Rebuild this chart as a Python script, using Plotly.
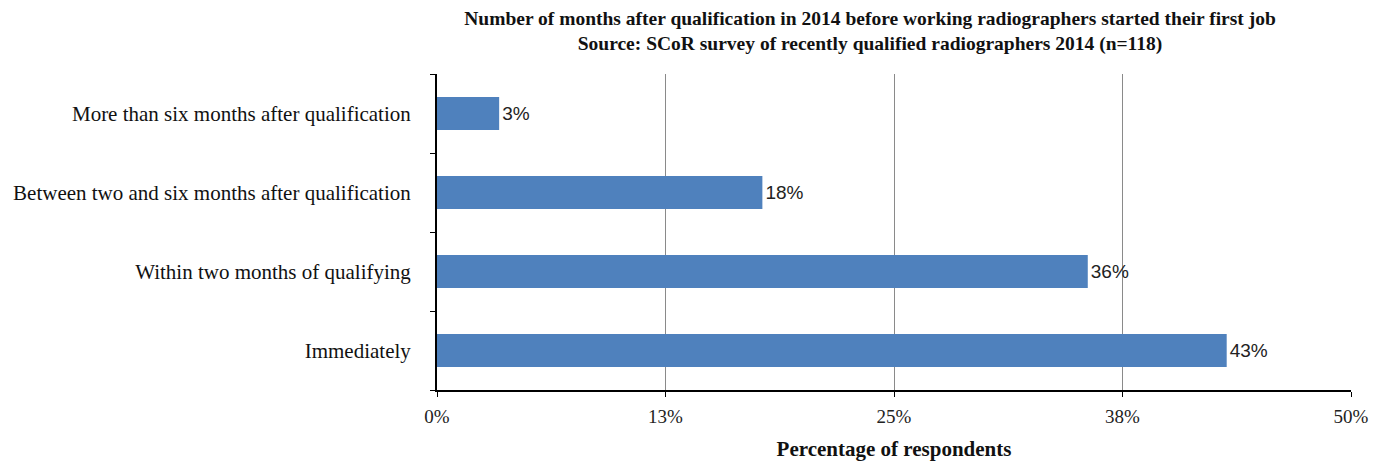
import plotly.graph_objects as go

categories = ["Immediately", "Within two months of qualifying",
              "Between two and six months after qualification",
              "More than six months after qualification"]
values = [43.2, 35.6, 17.8, 3.4]
tick_vals = [0, 12.5, 25, 37.5, 50]
tick_text = ["0%", "13%", "25%", "38%", "50%"]

serif = "Liberation Serif, Times New Roman, serif"

fig = go.Figure(go.Bar(
    x=values, y=categories, orientation="h",
    marker=dict(color="#4F81BD", line=dict(width=0)),
    texttemplate="%{x:.0f}%", textposition="outside",
    textfont=dict(family="Liberation Sans Narrow, Liberation Sans, Arial", size=19, color="#222"),
    cliponaxis=False, width=0.42,
))

fig.update_layout(
    width=1384, height=463,
    margin=dict(l=437, r=33, t=74, b=73, autoexpand=False),
    plot_bgcolor="white", paper_bgcolor="white",
    showlegend=False,
    font=dict(family=serif, size=18, color="#111"),
    title=dict(
        text="<b>Number of months after qualification in 2014 before working radiographers started their first job<br>Source: SCoR survey of recently qualified radiographers 2014 (n=118)</b>",
        x=870 / 1384, xanchor="center", xref="container",
        y=1 - 25 / 463, yanchor="top", yref="container",
        font=dict(family=serif, size=19.5, color="#111"),
    ),
    xaxis=dict(
        range=[0, 50], tickvals=tick_vals, ticktext=tick_text,
        showgrid=True, gridcolor="#8a8a8a", gridwidth=1,
        showline=True, linecolor="black", linewidth=2,
        ticks="outside", ticklen=5, tickcolor="black",
        ticklabelstandoff=3, zeroline=False, automargin=False,
        tickfont=dict(family=serif, size=19, color="#222"),
        title=dict(text="<b>Percentage of respondents</b>", standoff=16,
                   font=dict(family=serif, size=21, color="#111")),
    ),
    yaxis=dict(
        type="category", categoryorder="array", categoryarray=categories,
        showline=True, linecolor="black", linewidth=2,
        ticks="outside", ticklen=5, tickcolor="black", tickson="boundaries",
        ticklabelstandoff=20, showgrid=False, automargin=False,
        tickfont=dict(family=serif, size=21, color="#111"),
    ),
)

fig.write_html("out.html", config={"displayModeBar": False},
               post_script="document.body.style.margin='0';document.body.style.padding='0';")
